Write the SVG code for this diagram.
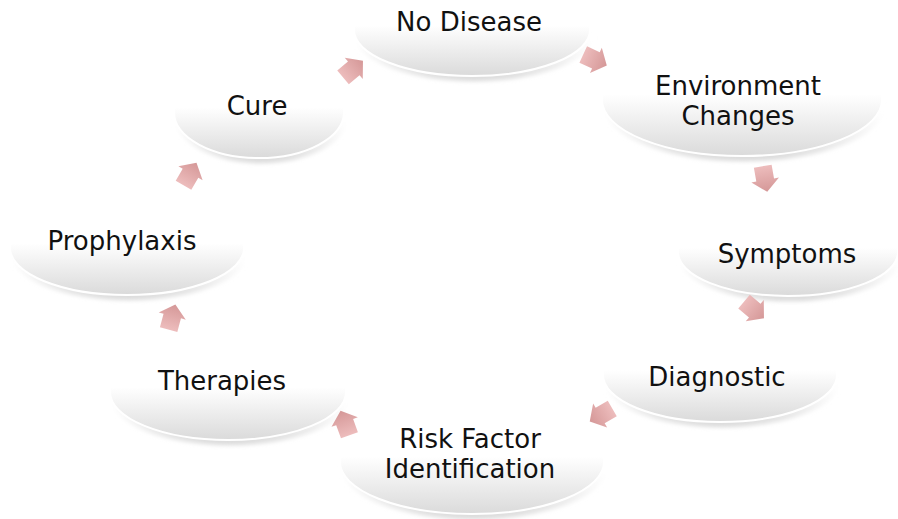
<svg xmlns="http://www.w3.org/2000/svg" width="898" height="519" viewBox="0 0 898 519">
<defs>
<linearGradient id="g" x1="0" y1="0" x2="0" y2="1">
<stop offset="0" stop-color="#ffffff"/>
<stop offset="0.45" stop-color="#ffffff"/>
<stop offset="1" stop-color="#dadada"/>
</linearGradient>
<linearGradient id="sh" x1="0" y1="0" x2="0" y2="1">
<stop offset="0.5" stop-color="#ffffff" stop-opacity="0"/>
<stop offset="1" stop-color="#d6d6d6"/>
</linearGradient>
<linearGradient id="ag" x1="0" y1="0" x2="1" y2="0">
<stop offset="0" stop-color="#ebb5b5"/>
<stop offset="1" stop-color="#d08c8c"/>
</linearGradient>
<filter id="blur" x="-20%" y="-20%" width="140%" height="140%"><feGaussianBlur stdDeviation="2"/></filter>
<polygon id="arr" points="-13,-9 1,-9 1,-14 13,0 1,14 1,9 -13,9"/>
</defs>
<style>
.sd{fill:url(#sh);filter:url(#blur)}
.el{fill:url(#g);stroke:#ffffff;stroke-width:2}
.t{font-family:"DejaVu Sans",Verdana,sans-serif;font-size:26px;fill:#111;text-anchor:middle}
.a{fill:url(#ag);opacity:0.9}
</style>
<g id="n-nodisease">
<ellipse class="sd" cx="474" cy="34" rx="120" ry="47"/>
<ellipse class="el" cx="472" cy="30" rx="118" ry="46"/>
<text class="t" x="469" y="31">No Disease</text>
</g>
<g id="n-env">
<ellipse class="sd" cx="744" cy="104" rx="142" ry="57"/>
<ellipse class="el" cx="742" cy="100" rx="140" ry="56"/>
<text class="t" x="738" y="95">Environment</text>
<text class="t" x="738" y="125">Changes</text>
</g>
<g id="n-symptoms">
<ellipse class="sd" cx="790" cy="256" rx="112" ry="45"/>
<ellipse class="el" cx="788" cy="252" rx="110" ry="44"/>
<text class="t" x="787" y="263">Symptoms</text>
</g>
<g id="n-diagnostic">
<ellipse class="sd" cx="722" cy="379" rx="119" ry="48"/>
<ellipse class="el" cx="720" cy="375" rx="117" ry="47"/>
<text class="t" x="717" y="386">Diagnostic</text>
</g>
<g id="n-risk">
<ellipse class="sd" cx="474" cy="466" rx="134" ry="53"/>
<ellipse class="el" cx="472" cy="462" rx="132" ry="52"/>
<text class="t" x="470" y="448">Risk Factor</text>
<text class="t" x="470" y="478">Identification</text>
</g>
<g id="n-therapies">
<ellipse class="sd" cx="230" cy="396" rx="120" ry="49"/>
<ellipse class="el" cx="228" cy="392" rx="118" ry="48"/>
<text class="t" x="222" y="390">Therapies</text>
</g>
<g id="n-prophylaxis">
<ellipse class="sd" cx="129" cy="252" rx="119" ry="48"/>
<ellipse class="el" cx="127" cy="248" rx="117" ry="47"/>
<text class="t" x="122" y="250">Prophylaxis</text>
</g>
<g id="n-cure">
<ellipse class="sd" cx="261" cy="116" rx="87" ry="47"/>
<ellipse class="el" cx="259" cy="112" rx="85" ry="46"/>
<text class="t" x="257" y="115">Cure</text>
</g>
<g id="connectors">
<use href="#arr" class="a" transform="translate(353,69) rotate(-40)"/>
<use href="#arr" class="a" transform="translate(595,60) rotate(25)"/>
<use href="#arr" class="a" transform="translate(765,179) rotate(80)"/>
<use href="#arr" class="a" transform="translate(754,310) rotate(40)"/>
<use href="#arr" class="a" transform="translate(601,415) rotate(150)"/>
<use href="#arr" class="a" transform="translate(345,423) rotate(-110)"/>
<use href="#arr" class="a" transform="translate(172,317) rotate(-75)"/>
<use href="#arr" class="a" transform="translate(190,174) rotate(-60)"/>
</g>
</svg>
